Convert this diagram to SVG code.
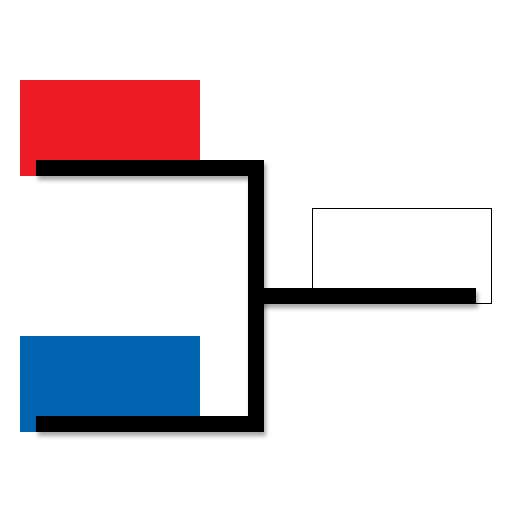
<svg xmlns="http://www.w3.org/2000/svg" width="512" height="512" viewBox="0 0 512 512">
<defs>
<filter id="sh" filterUnits="userSpaceOnUse" x="0" y="0" width="512" height="512">
<feDropShadow dx="2" dy="4" stdDeviation="2" flood-color="#000" flood-opacity="0.35"/>
</filter>
<style>
.wire{fill:none;stroke:#040404;stroke-width:16;stroke-linecap:butt;stroke-linejoin:miter;filter:url(#sh)}
</style>
</defs>
<rect width="512" height="512" fill="#fff"/>
<g id="red"><rect x="20" y="80" width="180" height="96" fill="#ed1c24"/></g>
<g id="blue"><rect x="20" y="336" width="180" height="96" fill="#0064b0"/></g>
<g id="box"><rect x="312.5" y="208.5" width="179" height="95" fill="#fff" stroke="#000" stroke-width="1"/></g>
<g id="connectors">
<path class="wire" d="M36,168 H256 V424 H36"/>
<path class="wire" d="M256,296 H476"/>
</g>
</svg>
